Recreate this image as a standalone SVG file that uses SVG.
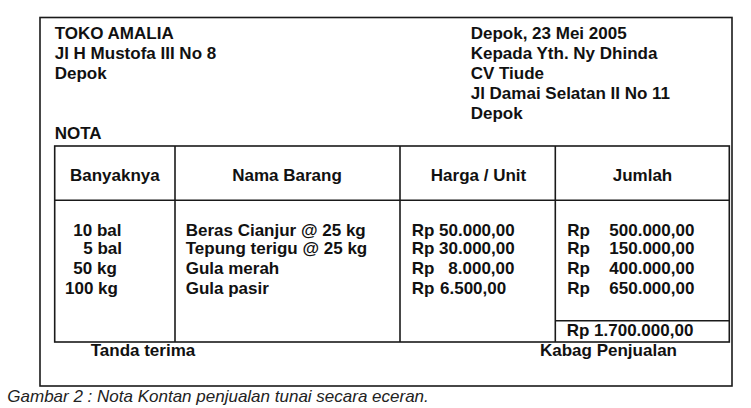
<svg xmlns="http://www.w3.org/2000/svg" width="751" height="408" viewBox="0 0 751 408">
<style>
.t{font-family:"Liberation Sans",Arial,sans-serif;font-size:17px;font-weight:bold;fill:#111}
.c{text-anchor:middle}
.cap{font-family:"Liberation Sans",Arial,sans-serif;font-size:17px;font-style:italic;fill:#222}
.ln{fill:none;stroke:#1a1a1a;stroke-width:1.6}
</style>
<rect width="751" height="408" fill="#fff"/>
<g id="frame">
<rect class="ln" x="40" y="17.5" width="692" height="368.5"/>
</g>
<g id="sender">
<text class="t" x="54.7" y="39">TOKO AMALIA</text>
<text class="t" x="54.7" y="59.3">Jl H Mustofa III No 8</text>
<text class="t" x="54.7" y="79">Depok</text>
</g>
<g id="recipient">
<text class="t" x="470.7" y="39">Depok, 23 Mei 2005</text>
<text class="t" x="470.7" y="59.3">Kepada Yth. Ny Dhinda</text>
<text class="t" x="470.7" y="79">CV Tiude</text>
<text class="t" x="470.7" y="99.3">Jl Damai Selatan II No 11</text>
<text class="t" x="470.7" y="119">Depok</text>
</g>
<g id="title">
<text class="t" x="54.7" y="139">NOTA</text>
</g>
<g id="table">
<rect class="ln" x="54.7" y="146" width="674.6" height="196"/>
<line class="ln" x1="54.7" y1="200.3" x2="729.3" y2="200.3"/>
<line class="ln" x1="175" y1="146" x2="175" y2="342"/>
<line class="ln" x1="400" y1="146" x2="400" y2="342"/>
<line class="ln" x1="555.3" y1="146" x2="555.3" y2="342"/>
<line class="ln" x1="555.3" y1="320.7" x2="729.3" y2="320.7"/>
</g>
<g id="header">
<text class="t c" x="114.8" y="181">Banyaknya</text>
<text class="t c" x="287" y="181">Nama Barang</text>
<text class="t c" x="478.5" y="181">Harga / Unit</text>
<text class="t c" x="642.5" y="181">Jumlah</text>
</g>
<g id="col-banyaknya">
<text class="t" x="73.3" y="236">10 bal</text>
<text class="t" x="83.3" y="254">5 bal</text>
<text class="t" x="73.3" y="274">50 kg</text>
<text class="t" x="65" y="294">100 kg</text>
</g>
<g id="col-nama">
<text class="t" x="185.7" y="236">Beras Cianjur @ 25 kg</text>
<text class="t" x="185.7" y="254">Tepung terigu @ 25 kg</text>
<text class="t" x="185.7" y="274">Gula merah</text>
<text class="t" x="185.7" y="294">Gula pasir</text>
</g>
<g id="col-harga">
<text class="t" x="411.7" y="236">Rp 50.000,00</text>
<text class="t" x="411.7" y="254">Rp 30.000,00</text>
<text class="t" x="411.7" y="274">Rp</text>
<text class="t" x="448.3" y="274">8.000,00</text>
<text class="t" x="411.7" y="294">Rp</text>
<text class="t" x="440" y="294">6.500,00</text>
</g>
<g id="col-jumlah">
<text class="t" x="567.3" y="236">Rp</text>
<text class="t" x="609.3" y="236">500.000,00</text>
<text class="t" x="567.3" y="254">Rp</text>
<text class="t" x="609.3" y="254">150.000,00</text>
<text class="t" x="567.3" y="274">Rp</text>
<text class="t" x="609.3" y="274">400.000,00</text>
<text class="t" x="567.3" y="294">Rp</text>
<text class="t" x="609.3" y="294">650.000,00</text>
</g>
<g id="total">
<text class="t" x="566.7" y="336">Rp 1.700.000,00</text>
</g>
<g id="signatures">
<text class="t" x="90.7" y="355.7">Tanda terima</text>
<text class="t" x="540" y="355.7">Kabag Penjualan</text>
</g>
<g id="caption">
<text class="cap" x="7.3" y="401.5">Gambar 2 : Nota Kontan penjualan tunai secara eceran.</text>
</g>
</svg>
